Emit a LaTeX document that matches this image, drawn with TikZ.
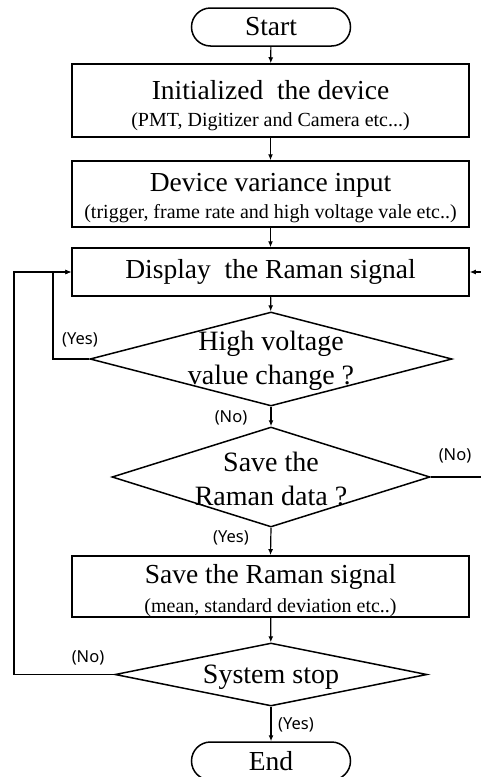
\documentclass[tikz,border=0pt]{standalone}
\usepackage{fontspec}
\setmainfont{Liberation Serif}
\newfontfamily\lblfont{Noto Sans}
\usetikzlibrary{shapes.geometric,shapes.misc,arrows.meta}
\begin{document}
\begin{tikzpicture}[x=1pt,y=-1pt]
\useasboundingbox (0,0) rectangle (481,777);
\tikzstyle{term}=[draw,line width=1.5pt,rounded rectangle,minimum width=159pt,minimum height=38pt,inner sep=0pt,font=\fontsize{27.5}{30}\selectfont]
\tikzstyle{box}=[draw,line width=1.5pt,rectangle,minimum width=397pt,inner sep=0pt,align=center,font=\fontsize{27.5}{25}\selectfont]
\tikzstyle{dia}=[draw,line width=1.5pt,diamond,inner sep=0pt]
\tikzstyle{diatxt}=[align=center,inner sep=0pt,font=\fontsize{28}{34}\selectfont]
\tikzstyle{lbl}=[inner sep=0pt,font=\lblfont\fontsize{16.5}{18}\selectfont]
\tikzstyle{arr}=[line width=1.2pt,-{Latex[length=6pt,width=5pt]}]
\def\sub#1{{\fontsize{20}{24}\selectfont #1}}
\def\top#1{\rule{0pt}{#1pt}}
\node[term] (start) at (271,27) {Start};
\node[box,minimum height=73pt] (init) at (270.5,100.5) {\top{29}Initialized~ the device\\[2pt]\sub{(PMT, Digitizer and Camera etc...)}};
\node[box,minimum height=66pt] (input) at (270.5,194) {\top{27}Device variance input\\[2pt]\sub{(trigger, frame rate and high voltage vale etc..)}};
\node[box,minimum height=48pt] (disp) at (270.5,272) {Display~ the Raman signal};
\node[dia,minimum width=362pt,minimum height=94pt] (hv) at (271,359) {};
\node[diatxt] (hvt) at (271,361) {High voltage\\value change ?};
\node[dia,minimum width=318pt,minimum height=100pt] (sv) at (271,477) {};
\node[diatxt] (svt) at (271,479) {Save the\\Raman data ?};
\node[box,minimum height=61pt] (save) at (270.5,586.5) {\top{28}Save the Raman signal\\[4pt]\sub{(mean, standard deviation etc..)}};
\node[dia,minimum width=312pt,minimum height=63pt] (stop) at (271,674.5) {};
\node[diatxt] (stopt) at (271,677) {System stop};
\node[term] (end) at (271,761) {End};
\coordinate (j1) at (53,272);
\coordinate (j2) at (14,272);
\coordinate (r1) at (495,477);
\coordinate (r2) at (495,272);
\draw[arr] (start) -- (init);
\draw[arr] (init) -- (input);
\draw[arr] (input) -- (disp);
\draw[arr] (disp) -- (hv);
\draw[arr] (hv.west) -| (j1) -- (disp.west);
\draw[arr] (hv.south) -- (sv.north);
\draw[arr] (sv.east) -- (r1) -- (r2) -- (disp.east);
\draw[arr] (sv.south) -- (save.north);
\draw[arr] (save) -- (stop);
\draw[arr] (stop.west) -| (j2) -- (disp.west);
\draw[arr] (stop.south) -- (end.north);
\node[lbl] (l1) at (80,340) {(Yes)};
\node[lbl] (l2) at (231,418) {(No)};
\node[lbl] (l3) at (455,456) {(No)};
\node[lbl] (l4) at (231,538) {(Yes)};
\node[lbl] (l5) at (88,658) {(No)};
\node[lbl] (l6) at (296,725) {(Yes)};
\end{tikzpicture}
\end{document}
